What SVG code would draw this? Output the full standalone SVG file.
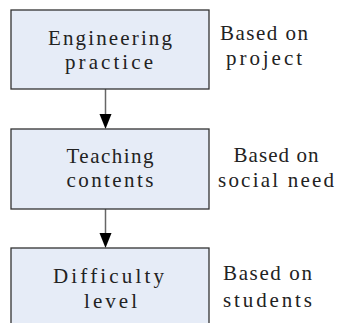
<svg xmlns="http://www.w3.org/2000/svg" width="342" height="323" viewBox="0 0 342 323">
  <style>
    .box { fill: #e6ecf7; stroke: #333333; stroke-width: 1.3; }
    .t { font-family: "Liberation Serif", "DejaVu Serif", serif; font-size: 21px; fill: #222222; text-anchor: middle; }
    .wire { stroke: #666666; stroke-width: 1.5; fill: none; }
    .head { fill: #000000; }
  </style>
  <rect width="342" height="323" fill="#ffffff"/>

  <g id="connectors">
    <line class="wire" x1="105.5" y1="89" x2="105.5" y2="116"/>
    <polygon class="head" points="99.5,114 111.5,114 105.5,129"/>
    <line class="wire" x1="105.5" y1="209" x2="105.5" y2="235"/>
    <polygon class="head" points="99.5,233 111.5,233 105.5,248"/>
  </g>

  <g id="engineering-practice">
    <rect class="box" x="11" y="10" width="198" height="79"/>
    <text class="t" x="110" y="45" textLength="124" lengthAdjust="spacing">Engineering</text>
    <text class="t" x="109" y="69" textLength="88" lengthAdjust="spacing">practice</text>
  </g>
  <g id="note-project">
    <text class="t" x="264" y="40" textLength="88" lengthAdjust="spacing">Based on</text>
    <text class="t" x="264" y="65" textLength="76" lengthAdjust="spacing">project</text>
  </g>

  <g id="teaching-contents">
    <rect class="box" x="11" y="129" width="198" height="80"/>
    <text class="t" x="110" y="163" textLength="87" lengthAdjust="spacing">Teaching</text>
    <text class="t" x="110" y="187" textLength="87" lengthAdjust="spacing">contents</text>
  </g>
  <g id="note-social-need">
    <text class="t" x="276" y="162" textLength="85" lengthAdjust="spacing">Based on</text>
    <text class="t" x="276" y="187" textLength="116" lengthAdjust="spacing">social need</text>
  </g>

  <g id="difficulty-level">
    <rect class="box" x="11" y="248" width="198" height="90"/>
    <text class="t" x="108.5" y="283" textLength="111" lengthAdjust="spacing">Difficulty</text>
    <text class="t" x="110.5" y="308" textLength="53" lengthAdjust="spacing">level</text>
  </g>
  <g id="note-students">
    <text class="t" x="267.5" y="280" textLength="89" lengthAdjust="spacing">Based on</text>
    <text class="t" x="267.5" y="307" textLength="89" lengthAdjust="spacing">students</text>
  </g>
</svg>
